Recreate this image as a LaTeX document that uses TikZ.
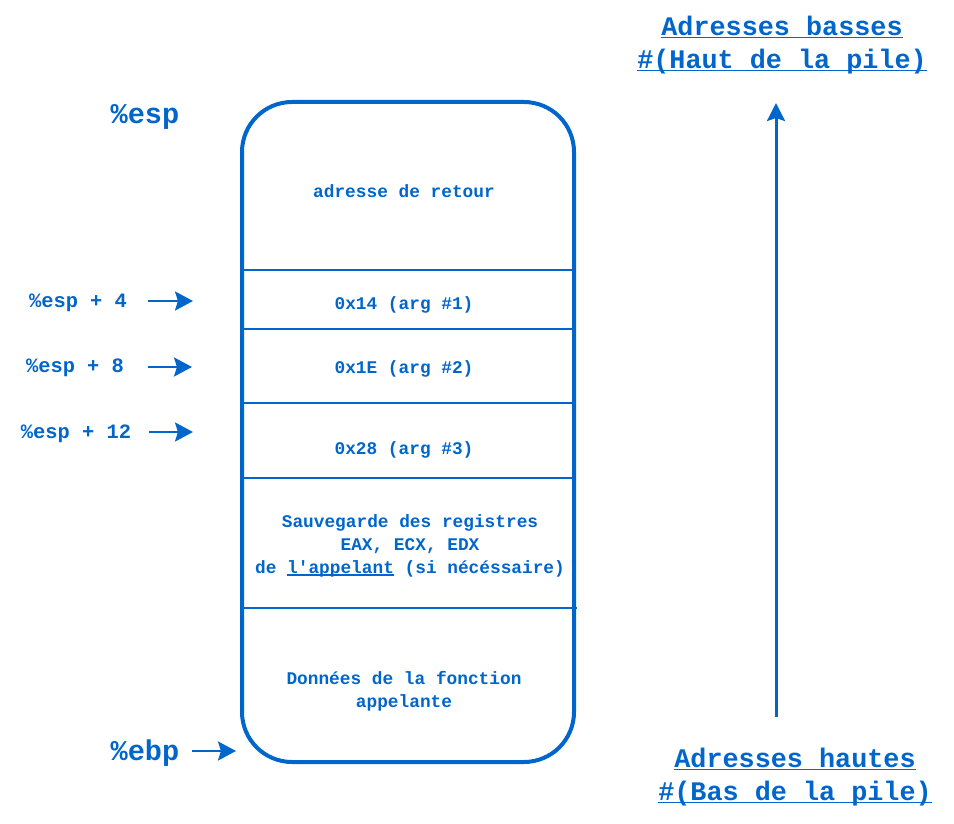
\documentclass[tikz,border=0pt]{standalone}
\usepackage{fontspec}
\setmonofont{Liberation Mono}
\usetikzlibrary{arrows.meta, positioning}
\definecolor{stackblue}{HTML}{0066CC}
\newcommand{\stackul}[1]{\setbox0\hbox{#1}\rlap{\rule[-0.11em]{\wd0}{0.06em}}\box0\relax}

\begin{document}
\begin{tikzpicture}[x=1pt, y=-1pt,
  cell/.style={font=\ttfamily\bfseries\fontsize{17.8}{23}\selectfont, text=stackblue, align=center, inner sep=0pt},
  offset/.style={font=\ttfamily\bfseries\fontsize{20.4}{24}\selectfont, text=stackblue, inner sep=0pt},
  reg/.style={font=\ttfamily\bfseries\fontsize{28.6}{32}\selectfont, text=stackblue, inner sep=0pt},
  heading/.style={font=\ttfamily\bfseries\fontsize{26.8}{33}\selectfont, text=stackblue, align=center, inner sep=0pt},
  ptr/.style={stackblue, line width=2.8pt, -{Stealth[length=18pt, width=19pt, inset=3pt]}}]
\useasboundingbox (0,0) rectangle (954,824);
%Stack:
\draw [stackblue, line width=4pt, rounded corners=50pt] (242,102) rectangle (574,762);
\draw [stackblue, line width=2.5pt]
(242,270) -- (574,270)
(242,329) -- (574,329)
(242,403) -- (574,403)
(242,478) -- (574,478)
(242,608) -- (577,608);
\node (ret) [cell] at (404,191) {adresse de retour};
\node (arg1) [cell] at (404,305) {0x14 (arg \#1)};
\node (arg2) [cell] at (404,369) {0x1E (arg \#2)};
\node (arg3) [cell] at (404,450) {0x28 (arg \#3)};
\node (save) [cell] at (410,546) {Sauvegarde des registres\\EAX, ECX, EDX\\de \stackul{l'appelant} (si nécéssaire)};
\node (data) [cell] at (404,691) {Données de la fonction\\appelante};
%Registers:
\node (esp) [reg] at (145,117) {\%esp};
\node (ebp) [reg] at (145,753) {\%ebp};
\node (esp4) [offset] at (78,303) {\%esp + 4};
\node (esp8) [offset] at (75,368) {\%esp + 8};
\node (esp12) [offset] at (76,434) {\%esp + 12};
\coordinate (p4) at (193,301);
\coordinate (p8) at (192,367);
\coordinate (p12) at (193,432);
\coordinate (pebp) at (236,751);
\draw [ptr] ([xshift=21pt]esp4.east |- p4) -- (p4);
\draw [ptr] ([xshift=24pt]esp8.east |- p8) -- (p8);
\draw [ptr] ([xshift=18pt]esp12.east |- p12) -- (p12);
\draw [ptr] ([xshift=12pt]ebp.east |- pebp) -- (pebp);
%Addresses:
\node (low) [heading] at (782,45) {\stackul{Adresses basses}\\\stackul{\#(Haut de la pile)}};
\node (high) [heading] at (795,777) {\stackul{Adresses hautes}\\\stackul{\#(Bas de la pile)}};
\coordinate (bottom) at (776,717);
\coordinate (top) at (776,103);
\draw [stackblue, line width=3pt, -{Stealth[length=18pt, width=18pt, inset=3pt]}] (bottom) -- (top);
\end{tikzpicture}
\end{document}
